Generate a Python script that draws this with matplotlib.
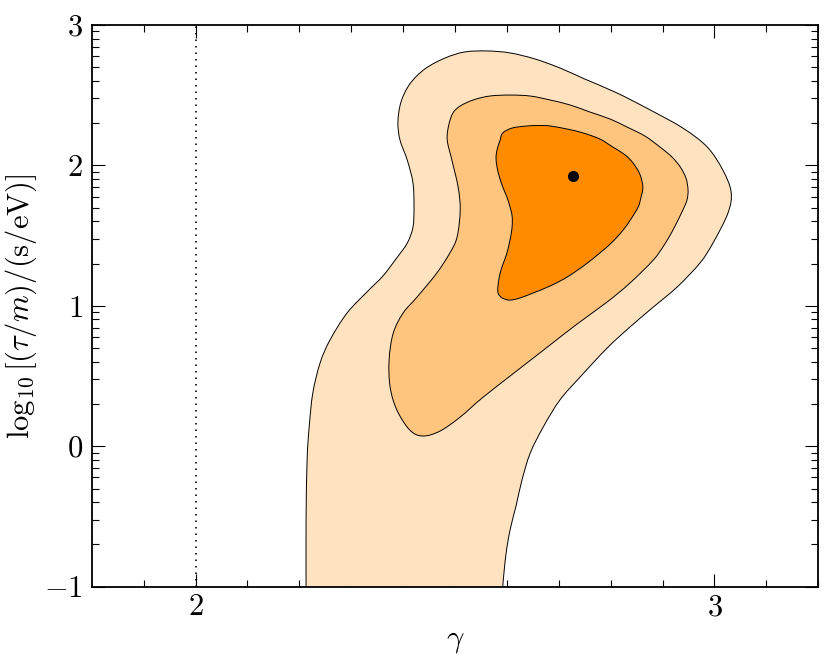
import numpy as np
import matplotlib

matplotlib.use("Agg")
import matplotlib.pyplot as plt
from matplotlib.path import Path
from matplotlib.patches import PathPatch

# credible-region outlines (gamma, log10[(tau/m)/(s/eV)])
outer_x = [2.212, 2.213, 2.213, 2.215, 2.219, 2.226, 2.240, 2.259, 2.292, 2.332,
           2.361, 2.386, 2.408, 2.419, 2.421, 2.419, 2.408, 2.394, 2.390, 2.396,
           2.413, 2.442, 2.481, 2.519, 2.562, 2.606, 2.654, 2.702, 2.750, 2.812,
           2.876, 2.939, 2.986, 3.016, 3.032, 3.026, 2.997, 2.972, 2.928, 2.882,
           2.837, 2.793, 2.741, 2.702, 2.670, 2.645, 2.629, 2.618, 2.606, 2.598,
           2.592, 2.592]
outer_y = [-1.1, -1.0, -0.526, -0.098, 0.137, 0.379, 0.593, 0.756, 0.949, 1.105,
           1.212, 1.333, 1.447, 1.561, 1.704, 1.875, 2.038, 2.181, 2.309, 2.452,
           2.580, 2.687, 2.765, 2.808, 2.815, 2.801, 2.758, 2.694, 2.615, 2.516,
           2.395, 2.266, 2.131, 1.967, 1.811, 1.661, 1.447, 1.305, 1.134, 0.991,
           0.849, 0.699, 0.493, 0.329, 0.137, -0.048, -0.241, -0.419, -0.597, -0.775,
           -1.0, -1.1]

middle_x = [2.485, 2.488, 2.496, 2.510, 2.535, 2.567, 2.606, 2.645, 2.683, 2.722,
            2.760, 2.799, 2.831, 2.866, 2.895, 2.918, 2.934, 2.945, 2.949, 2.947,
            2.939, 2.920, 2.903, 2.882, 2.837, 2.793, 2.735, 2.673, 2.611, 2.552,
            2.510, 2.471, 2.438, 2.413, 2.388, 2.375, 2.373, 2.381, 2.400, 2.427,
            2.465, 2.490, 2.504, 2.510, 2.506, 2.494]
middle_y = [2.181, 2.288, 2.373, 2.423, 2.466, 2.494, 2.501, 2.494, 2.466, 2.430,
            2.380, 2.330, 2.274, 2.209, 2.131, 2.060, 1.989, 1.910, 1.825, 1.754,
            1.682, 1.540, 1.433, 1.326, 1.162, 1.027, 0.870, 0.692, 0.514, 0.343,
            0.208, 0.108, 0.073, 0.115, 0.258, 0.422, 0.614, 0.806, 0.949, 1.063,
            1.234, 1.376, 1.490, 1.682, 1.846, 2.038]

inner_x = [2.581, 2.587, 2.592, 2.610, 2.639, 2.664, 2.683, 2.716, 2.747, 2.779,
           2.804, 2.828, 2.843, 2.856, 2.862, 2.858, 2.853, 2.839, 2.824, 2.803,
           2.779, 2.750, 2.716, 2.683, 2.650, 2.625, 2.606, 2.591, 2.583, 2.583,
           2.587, 2.594, 2.600, 2.606, 2.610, 2.610, 2.606, 2.600, 2.592, 2.585,
           2.581, 2.579]
inner_y = [2.110, 2.181, 2.231, 2.266, 2.281, 2.284, 2.281, 2.259, 2.231, 2.188,
           2.131, 2.074, 2.017, 1.939, 1.846, 1.768, 1.704, 1.618, 1.540, 1.454,
           1.376, 1.291, 1.205, 1.141, 1.091, 1.056, 1.041, 1.056, 1.091, 1.148,
           1.234, 1.312, 1.376, 1.469, 1.561, 1.640, 1.704, 1.775, 1.846, 1.925,
           1.989, 2.053]

best_fit = (2.727, 1.925)
gamma_ref = 2.0
region_colors = ["#ffe2bf", "#ffc57f", "#ff8c00"]


def smooth_outline(xs, ys):
    """Closed path through the points, drawn with Catmull-Rom style Bezier curves."""
    p = np.column_stack([xs, ys])
    n = len(p)
    verts = [p[0]]
    codes = [Path.MOVETO]
    for i in range(n):
        p0, p1, p2, p3 = p[i - 1], p[i], p[(i + 1) % n], p[(i + 2) % n]
        verts += [p1 + (p2 - p0) / 6, p2 - (p3 - p1) / 6, p2]
        codes += [Path.CURVE4] * 3
    return Path(verts, codes)


plt.rcParams["mathtext.fontset"] = "cm"
plt.rcParams["font.family"] = "serif"
plt.rcParams["font.serif"] = ["cmr10", "DejaVu Serif"]

fig = plt.figure(figsize=(8.3, 6.68), dpi=100)
ax = fig.add_axes([0.1105, 0.1217, 0.8754, 0.8409])

for xs, ys, col in zip([outer_x, middle_x, inner_x], [outer_y, middle_y, inner_y], region_colors):
    ax.add_patch(PathPatch(smooth_outline(xs, ys), facecolor=col, edgecolor="black",
                           linewidth=0.7, zorder=2))

ax.axvline(gamma_ref, color="black", linestyle=(0, (0.9, 3.0)), linewidth=1.2, zorder=3)
ax.plot(*best_fit, "o", color="black", markersize=7, zorder=4)

ax.set_xlim(1.8, 3.2)
ax.set_ylim(-1, 3)

ax.set_xticks([2, 3], labels=[r"$2$", r"$3$"])
ax.set_xticks(np.arange(1.9, 3.2, 0.1), minor=True)
ax.set_yticks([-1, 0, 1, 2, 3], labels=[r"$-1$", r"$0$", r"$1$", r"$2$", r"$3$"])
ax.set_yticks([n + np.log10(k) for n in range(-1, 3) for k in range(2, 10)], minor=True)

ax.tick_params(which="both", direction="in", top=True, right=True, labelsize=22, width=0.8)
ax.tick_params(which="major", length=9.5)
ax.tick_params(axis="x", which="major", pad=5)
ax.tick_params(axis="y", which="major", pad=6.5)
ax.tick_params(which="minor", length=5)
for sp in ax.spines.values():
    sp.set_linewidth(1.3)

ax.set_xlabel(r"$\gamma$", fontsize=22, labelpad=5)
ax.set_ylabel(r"$\log_{10}[(\tau/m)/(\mathrm{s/eV})]$", fontsize=22, labelpad=4)

fig.savefig("out.png", dpi=100)
